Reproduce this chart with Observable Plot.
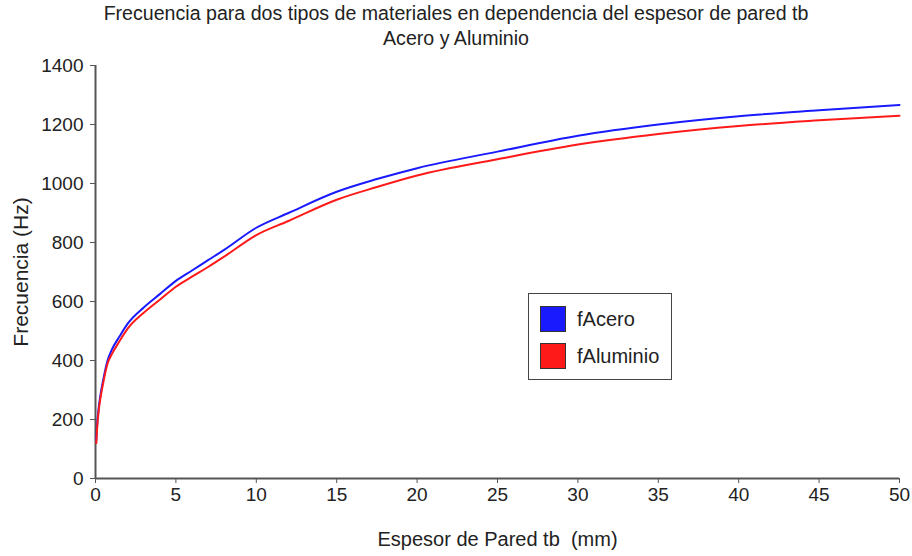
<!DOCTYPE html>
<html>
<head>
<meta charset="utf-8">
<script src="https://cdn.jsdelivr.net/npm/d3@7"></script>
<script src="https://cdn.jsdelivr.net/npm/@observablehq/plot@0.6"></script>
<style>
  html, body { margin: 0; padding: 0; background: #fff; }
  #wrap { position: relative; width: 912px; height: 556px; font-family: "Liberation Sans", Arial, sans-serif; color: #222; }
  #title { height: 56px; text-align: center; font-size: 19.6px; line-height: 25px; padding-top: 1px; box-sizing: border-box; white-space: nowrap; }
  #legend { position: absolute; left: 528px; top: 293px; width: 144px; height: 87px; border: 1.5px solid #444; box-sizing: border-box; background: #fff; font-size: 20px; }
  .item { position: absolute; left: 11px; display: flex; align-items: center; }
  .sw { width: 26px; height: 26px; border: 1px solid #333; box-sizing: border-box; margin-right: 11px; }
</style>
</head>
<body>
<div id="wrap">
  <div id="title">Frecuencia para dos tipos de materiales en dependencia del espesor de pared tb<br>Acero y Aluminio</div>
  <div id="chart"></div>
  <div id="legend"></div>
</div>
<script>
// Espesor de pared tb (mm)
const tb = [0.05, 0.1, 0.2, 0.3, 0.5, 0.75, 1, 1.5, 2, 3, 4, 5, 6, 7, 8, 10, 12, 15, 17.5, 20, 25, 30, 35, 40, 45, 50];
// Frecuencia (Hz)
const fAcero =    [130, 180, 240, 280, 340, 400, 435, 482, 525, 580, 625, 670, 705, 740, 775, 850, 900, 972, 1015, 1052, 1108, 1162, 1200, 1228, 1248, 1266];
const fAluminio = [120, 170, 230, 270, 330, 390, 420, 466, 508, 562, 606, 650, 684, 717, 752, 825, 873, 945, 988, 1027, 1082, 1132, 1168, 1195, 1214, 1230];
const series = ["fAcero", "fAluminio"];
const colors = ["#1a1aff", "#ff1a1a"];
const yTicks = [0, 200, 400, 600, 800, 1000, 1200, 1400];
const xTicks = [0, 5, 10, 15, 20, 25, 30, 35, 40, 45, 50];

const data = [];
series.forEach((s, si) => {
  const vals = si === 0 ? fAcero : fAluminio;
  tb.forEach((t, i) => data.push({tb: t, f: vals[i], serie: s}));
});

const font = '"Liberation Sans", Arial, sans-serif';
const chart = Plot.plot({
  width: 912,
  height: 500,
  marginTop: 9,
  marginBottom: 78,
  marginLeft: 95,
  marginRight: 13,
  style: {fontFamily: font, fontSize: "19px", color: "#222", background: "#fff"},
  x: {domain: [0, 50]},
  y: {domain: [0, 1400]},
  color: {domain: series, range: colors},
  marks: [
    Plot.axisX({ticks: xTicks, tickSize: 5, tickPadding: 4, stroke: "#555", label: null, fontSize: 19}),
    Plot.axisX({ticks: [], label: "Espesor de Pared tb  (mm)", labelAnchor: "center", labelArrow: "none", labelOffset: 67, fontSize: 20}),
    Plot.axisY({ticks: yTicks, tickSize: 5, tickPadding: 7, stroke: "#555", tickFormat: d3.format("d"), label: null, fontSize: 19}),
    Plot.axisY({ticks: [], label: "Frecuencia (Hz)", labelAnchor: "center", labelArrow: "none", labelOffset: 82, fontSize: 21}),
    Plot.ruleX([0], {y1: 0, y2: 1400, stroke: "#555", strokeWidth: 2}),
    Plot.ruleY([0], {stroke: "#555", strokeWidth: 2}),
    Plot.line(data, {x: "tb", y: "f", z: "serie", stroke: "serie", strokeWidth: 2, curve: "monotone-x"})
  ]
});
document.getElementById("chart").appendChild(chart);

const leg = document.getElementById("legend");
series.forEach((s, i) => {
  const it = document.createElement("div");
  it.className = "item";
  it.style.top = (i === 0 ? 12 : 49) + "px";
  it.innerHTML = `<div class="sw" style="background:${colors[i]}"></div><span>${s}</span>`;
  leg.appendChild(it);
});
</script>
</body>
</html>
